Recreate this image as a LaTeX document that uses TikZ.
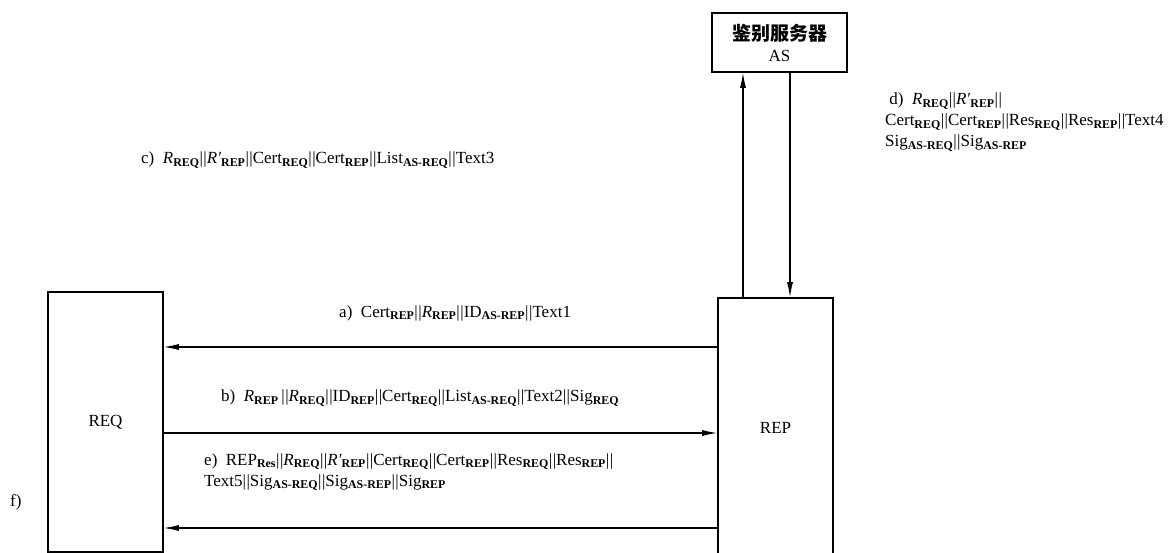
\documentclass[tikz,border=0pt]{standalone}
\usepackage{fontspec}
\setmainfont{Liberation Serif}
\newfontfamily\cjk{Noto Sans CJK SC}
\usetikzlibrary{arrows.meta}
\newcommand\low[1]{\textsubscript{\textbf{#1}}}
\newcommand\cat{\textbar\kern0.03em\textbar}
\tikzset{
  party/.style={draw, line width=1.6pt, minimum width=115pt, inner sep=0pt},
  server/.style={draw, line width=1.6pt, minimum width=135pt, minimum height=59pt,
                 align=center, inner sep=0pt},
  msg/.style={-{Latex[length=15pt,width=6pt]}, line width=1.1pt},
  msgtext/.style={anchor=west, align=left, inner sep=0pt},
}
\begin{document}
\begin{tikzpicture}[x=1pt, y=-1pt, font=\fontsize{17}{21}\selectfont]
    \useasboundingbox (0,0) rectangle (1171,553);
    \node[server] (as) at (779.5, 42.5) {{\cjk\bfseries\fontsize{19}{24}\selectfont 鉴别服务器}\\AS};
    \node[party, minimum height=260pt] (req) at (105.5, 422) {REQ};
    \node[party, minimum height=260pt] (rep) at (775.5, 428) {REP};
    % messages between REQ and REP
    \draw[msg] (rep.west |- 0,347) -- (req.east |- 0,347);
    \draw[msg] (req.east |- 0,433) -- (rep.west |- 0,433);
    \draw[msg] (rep.west |- 0,528) -- (req.east |- 0,528);
    % messages to and from AS
    \draw[msg] (rep.north -| 743,0) -- (as.south -| 743,0);
    \draw[msg] (as.south -| 790,0) -- (rep.north -| 790,0);
    \node[msgtext] (la) at (339, 313) {a)\ \ Cert\low{REP}\cat\textit{R}\low{REP}\cat ID\low{AS-REP}\cat Text1};
    \node[msgtext] (lb) at (221, 398) {b)\ \ \textit{R}\low{REP}\,\cat\textit{R}\low{REQ}\cat ID\low{REP}\cat Cert\low{REQ}\cat List\low{AS-REQ}\cat Text2\cat Sig\low{REQ}};
    \node[msgtext] (lc) at (141, 160) {c)\ \ \textit{R}\low{REQ}\cat\textit{R′}\low{REP}\cat Cert\low{REQ}\cat Cert\low{REP}\cat List\low{AS-REQ}\cat Text3};
    \node[msgtext] (ld) at (885, 122) {\ d)\ \ \textit{R}\low{REQ}\cat\textit{R′}\low{REP}\cat\\Cert\low{REQ}\cat Cert\low{REP}\cat Res\low{REQ}\cat Res\low{REP}\cat Text4\\Sig\low{AS-REQ}\cat Sig\low{AS-REP}};
    \node[msgtext] (le) at (204, 472) {e)\ \ REP\low{Res}\cat\textit{R}\low{REQ}\cat\textit{R′}\low{REP}\cat Cert\low{REQ}\cat Cert\low{REP}\cat Res\low{REQ}\cat Res\low{REP}\cat\\Text5\cat Sig\low{AS-REQ}\cat Sig\low{AS-REP}\cat Sig\low{REP}};
    \node[msgtext] (lf) at (10, 502) {f)};
\end{tikzpicture}
\end{document}
